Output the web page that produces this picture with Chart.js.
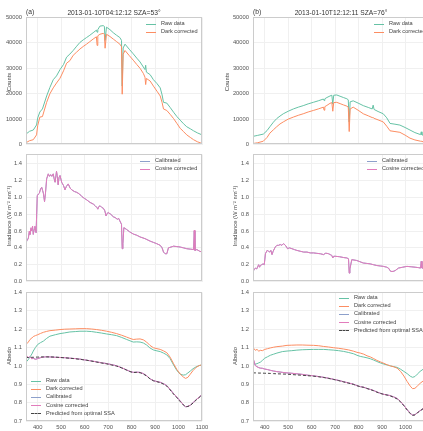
<!DOCTYPE html>
<html>
<head>
<meta charset="utf-8">
<script src="https://cdn.jsdelivr.net/npm/chart.js@4.4.0/dist/chart.umd.min.js"></script>
<style>
  html, body { margin: 0; padding: 0; background: #fff; overflow: hidden; }
  #fig { position: relative; width: 460px; height: 431px; font-family: "Liberation Sans", Arial, sans-serif; color: #333; }
  #fig canvas { position: absolute; }
  .txt { position: absolute; white-space: nowrap; line-height: 1; transform: translateY(-50%); font-size: 6.7px; color: #333; }
  .ttl { transform: translate(-50%, -50%); }
  .ylab { position: absolute; white-space: nowrap; line-height: 1; font-size: 5.8px; color: #444; transform: translate(-50%, -50%) rotate(-90deg); }
  .leg { position: absolute; white-space: nowrap; line-height: 1; font-size: 5.6px; color: #444; transform: translateY(-50%); }
  .sw { position: absolute; width: 10px; height: 0; border-top: 1px solid; }
</style>
</head>
<body>
<div id="fig">
  <canvas id="countsA" width="214" height="142" style="left:0;top:10px"></canvas>
  <canvas id="irrA" width="214" height="142" style="left:0;top:147px"></canvas>
  <canvas id="albA" width="214" height="146" style="left:0;top:285px"></canvas>
  <canvas id="countsB" width="214" height="142" style="left:227px;top:10px"></canvas>
  <canvas id="irrB" width="214" height="142" style="left:227px;top:147px"></canvas>
  <canvas id="albB" width="214" height="146" style="left:227px;top:285px"></canvas>

  <div class="txt" style="left:26px;top:12px">(a)</div>
  <div class="txt ttl" style="left:114px;top:12.5px">2013-01-10T04:12:12 SZA=53°</div>
  <div class="txt" style="left:253px;top:12px">(b)</div>
  <div class="txt ttl" style="left:341px;top:12.5px">2013-01-10T12:12:11 SZA=76°</div>

  <div class="ylab" style="left:10px;top:81.5px">Counts</div>
  <div class="ylab" style="left:9.5px;top:216px">Irradiance (W m⁻² nm⁻¹)</div>
  <div class="ylab" style="left:9.5px;top:356px">Albedo</div>
  <div class="ylab" style="left:228px;top:81.5px">Counts</div>
  <div class="ylab" style="left:236px;top:216px">Irradiance (W m⁻² nm⁻¹)</div>
  <div class="ylab" style="left:236px;top:356px">Albedo</div>
  <div id="legends"></div>
</div>
<script>
// couleurs (palette Set2)
const colRaw = "#66c2a5";
const colDark = "#fc8d62";
const colCal = "#8da0cb";
const colCos = "#e27cbc";
const colPred = "#444444";

// ticks
const wlTicks = [400, 500, 600, 700, 800, 900, 1000, 1100];
const countsTicks = [0, 10000, 20000, 30000, 40000, 50000];
const irrTicks = [0, 0.2, 0.4, 0.6, 0.8, 1.0, 1.2, 1.4];
const albTicks = [0.7, 0.8, 0.9, 1.0, 1.1, 1.2, 1.3, 1.4];

// (a) counts
const wlCountsA = [350, 365, 381, 395, 400, 409, 420, 438, 452, 466, 480, 495, 510, 523, 537, 551, 566, 580, 594, 608, 622, 636, 650, 653, 656, 665, 679, 684, 687, 693, 708, 722, 736, 750, 757, 760, 764, 772, 790, 807, 822, 836, 850, 857, 860, 863, 879, 893, 908, 922, 930, 936, 950, 965, 979, 993, 1007, 1021, 1035, 1050, 1064, 1080, 1100];
const rawCountsA = [4100, 5200, 5700, 7700, 10500, 12800, 14000, 19100, 22500, 25500, 27000, 29500, 31500, 34400, 35600, 37000, 38700, 40200, 41200, 42100, 43000, 44000, 45000, 44200, 45200, 46600, 46800, 46500, 41000, 46200, 45200, 44000, 43000, 42100, 41000, 23000, 38000, 39500, 37500, 35700, 34000, 32500, 30500, 29500, 31200, 28500, 27500, 25500, 24000, 22300, 19500, 16600, 16300, 14500, 12700, 11000, 9600, 8200, 7000, 6200, 5400, 4600, 3800];
const darkCountsA = [700, 1500, 1900, 3800, 7500, 10800, 11000, 16600, 20000, 22300, 24200, 26100, 29000, 32000, 33000, 35100, 36400, 37600, 38600, 39500, 40500, 41500, 42400, 39000, 42800, 43400, 43750, 43400, 37900, 43400, 42500, 41500, 40500, 39500, 38500, 19800, 35500, 37000, 35000, 33200, 31500, 30000, 28000, 26500, 23600, 26000, 25000, 23000, 21000, 19100, 16500, 14000, 13400, 11800, 10200, 8300, 6400, 5100, 3800, 2800, 1900, 1100, 400];

// (b) counts
const wlCountsB = [350, 370, 394, 410, 422, 437, 451, 465, 479, 500, 522, 543, 564, 585, 607, 628, 650, 653, 656, 665, 678, 686, 690, 694, 707, 721, 735, 750, 756, 760, 764, 777, 798, 820, 841, 858, 862, 866, 883, 905, 920, 934, 955, 976, 998, 1019, 1040, 1064, 1067, 1070, 1085, 1100];
const rawCountsB = [3200, 3600, 4100, 5500, 7000, 8800, 10200, 11200, 12100, 13100, 14000, 14700, 15300, 16000, 16600, 17200, 17900, 17300, 18000, 18500, 19100, 19400, 15900, 19400, 19500, 19000, 18500, 18000, 17600, 8900, 16800, 17200, 16300, 15300, 14600, 14000, 15500, 13800, 13000, 12100, 10500, 8300, 8000, 7650, 6700, 5700, 4700, 3900, 5000, 3800, 3400, 3000];
const darkCountsB = [400, 700, 1300, 2800, 4500, 5800, 7000, 8100, 8900, 10000, 10800, 11500, 12100, 12800, 13400, 14000, 14700, 13500, 14900, 15400, 16200, 16500, 13100, 16500, 16600, 16100, 15600, 15100, 14700, 5100, 14000, 14700, 13500, 12100, 11300, 10600, 10600, 10300, 9700, 8900, 7200, 5400, 5100, 4800, 3700, 2500, 1800, 1300, 1300, 1200, 900, 600];

// (a) irradiance
const wlIrrA = [350, 355, 360, 364, 367, 371, 374, 378, 381, 385, 388, 393, 398, 403, 407, 412, 417, 421, 424, 429, 433, 438, 445, 450, 455, 460, 466, 470, 474, 480, 483, 487, 491, 495, 502, 510, 516, 522, 530, 538, 545, 556, 566, 578, 588, 598, 609, 623, 637, 645, 652, 656, 660, 666, 673, 680, 686, 691, 696, 700, 711, 722, 730, 739, 745, 750, 757, 760, 763, 767, 778, 792, 807, 822, 836, 857, 879, 893, 907, 922, 930, 936, 943, 950, 957, 968, 979, 993, 1007, 1021, 1035, 1050, 1064, 1067, 1070, 1078, 1090, 1100];
const cosIrrA = [0.47, 0.49, 0.51, 0.60, 0.56, 0.64, 0.60, 0.66, 0.56, 0.62, 0.66, 0.58, 1.02, 1.04, 1.05, 1.10, 1.12, 1.08, 1.05, 0.95, 1.05, 1.22, 1.28, 1.25, 1.27, 1.25, 1.28, 1.22, 1.18, 1.31, 1.26, 1.15, 1.24, 1.26, 1.18, 1.14, 1.09, 1.13, 1.16, 1.11, 1.09, 1.07, 1.06, 1.04, 1.01, 0.99, 0.97, 0.94, 0.92, 0.90, 0.88, 0.86, 0.89, 0.90, 0.88, 0.87, 0.84, 0.78, 0.81, 0.82, 0.80, 0.77, 0.76, 0.74, 0.75, 0.72, 0.68, 0.39, 0.45, 0.64, 0.62, 0.59, 0.565, 0.55, 0.53, 0.51, 0.48, 0.465, 0.45, 0.43, 0.40, 0.35, 0.33, 0.33, 0.40, 0.41, 0.42, 0.415, 0.41, 0.40, 0.39, 0.385, 0.38, 0.61, 0.37, 0.38, 0.36, 0.35];
const calIrrA = [0.46, 0.49, 0.52, 0.59, 0.56, 0.63, 0.61, 0.65, 0.56, 0.62, 0.65, 0.58, 1.02, 1.04, 1.05, 1.10, 1.12, 1.08, 1.05, 0.95, 1.05, 1.22, 1.28, 1.25, 1.27, 1.25, 1.28, 1.22, 1.18, 1.31, 1.26, 1.15, 1.24, 1.26, 1.18, 1.14, 1.09, 1.13, 1.16, 1.11, 1.09, 1.07, 1.06, 1.04, 1.01, 0.99, 0.97, 0.94, 0.92, 0.90, 0.88, 0.86, 0.89, 0.90, 0.88, 0.87, 0.84, 0.78, 0.81, 0.82, 0.80, 0.77, 0.76, 0.74, 0.75, 0.72, 0.68, 0.39, 0.45, 0.64, 0.62, 0.59, 0.565, 0.55, 0.53, 0.51, 0.48, 0.465, 0.45, 0.43, 0.40, 0.35, 0.33, 0.33, 0.40, 0.41, 0.42, 0.415, 0.41, 0.40, 0.39, 0.385, 0.38, 0.60, 0.37, 0.38, 0.36, 0.35];

// (b) irradiance
const wlIrrB = [350, 355, 360, 366, 374, 378, 381, 387, 393, 398, 403, 410, 416, 421, 426, 431, 436, 445, 452, 459, 466, 473, 480, 488, 493, 497, 505, 516, 526, 537, 551, 566, 580, 594, 608, 622, 637, 651, 658, 665, 672, 679, 686, 690, 694, 700, 718, 736, 750, 757, 760, 763, 771, 792, 806, 820, 835, 849, 863, 878, 892, 906, 920, 927, 937, 947, 956, 970, 988, 1006, 1024, 1041, 1055, 1064, 1067, 1070, 1085, 1100];
const cosIrrB = [0.12, 0.14, 0.16, 0.15, 0.20, 0.17, 0.19, 0.20, 0.21, 0.20, 0.33, 0.37, 0.36, 0.35, 0.37, 0.32, 0.36, 0.41, 0.43, 0.43, 0.44, 0.43, 0.45, 0.43, 0.41, 0.39, 0.40, 0.39, 0.38, 0.37, 0.36, 0.35, 0.35, 0.34, 0.34, 0.335, 0.33, 0.32, 0.335, 0.335, 0.33, 0.32, 0.31, 0.28, 0.30, 0.30, 0.295, 0.285, 0.28, 0.27, 0.10, 0.15, 0.26, 0.25, 0.235, 0.22, 0.215, 0.21, 0.20, 0.19, 0.185, 0.18, 0.17, 0.16, 0.12, 0.12, 0.13, 0.16, 0.17, 0.18, 0.175, 0.17, 0.165, 0.16, 0.24, 0.16, 0.155, 0.15];
const calIrrB = [0.12, 0.14, 0.16, 0.15, 0.20, 0.17, 0.19, 0.20, 0.21, 0.20, 0.33, 0.37, 0.36, 0.35, 0.37, 0.32, 0.36, 0.41, 0.43, 0.43, 0.44, 0.43, 0.45, 0.43, 0.41, 0.39, 0.40, 0.39, 0.38, 0.37, 0.36, 0.35, 0.35, 0.34, 0.34, 0.335, 0.33, 0.32, 0.335, 0.335, 0.33, 0.32, 0.31, 0.28, 0.30, 0.30, 0.295, 0.285, 0.28, 0.27, 0.10, 0.15, 0.26, 0.25, 0.235, 0.22, 0.215, 0.21, 0.20, 0.19, 0.185, 0.18, 0.17, 0.16, 0.12, 0.12, 0.13, 0.16, 0.17, 0.18, 0.175, 0.17, 0.165, 0.16, 0.24, 0.16, 0.155, 0.15];

// albedo
const wlAlb = [350, 360, 367, 375, 381, 390, 400, 412, 424, 438, 452, 475, 495, 515, 537, 560, 580, 608, 630, 651, 672, 694, 715, 736, 758, 779, 793, 807, 822, 836, 850, 864, 878, 893, 908, 922, 936, 950, 964, 979, 993, 1007, 1020, 1030, 1040, 1050, 1062, 1075, 1088, 1100];
const rawAlbA = [1.02, 1.035, 1.049, 1.065, 1.081, 1.10, 1.117, 1.127, 1.135, 1.150, 1.162, 1.170, 1.176, 1.180, 1.185, 1.187, 1.189, 1.189, 1.187, 1.183, 1.179, 1.174, 1.170, 1.165, 1.155, 1.144, 1.137, 1.130, 1.131, 1.130, 1.125, 1.114, 1.098, 1.087, 1.082, 1.078, 1.070, 1.060, 1.040, 1.005, 0.975, 0.955, 0.950, 0.952, 0.962, 0.972, 0.985, 0.995, 1.002, 1.005];
const darkAlbA = [1.117, 1.13, 1.144, 1.152, 1.160, 1.165, 1.170, 1.177, 1.183, 1.188, 1.192, 1.195, 1.198, 1.200, 1.201, 1.202, 1.203, 1.203, 1.201, 1.198, 1.194, 1.189, 1.183, 1.176, 1.167, 1.157, 1.150, 1.144, 1.146, 1.147, 1.142, 1.130, 1.112, 1.099, 1.094, 1.090, 1.082, 1.072, 1.048, 1.012, 0.980, 0.956, 0.940, 0.932, 0.938, 0.955, 0.975, 0.992, 1.002, 1.006];
const calAlbA = [1.05, 1.045, 1.048, 1.040, 1.042, 1.037, 1.040, 1.045, 1.048, 1.050, 1.049, 1.047, 1.046, 1.045, 1.042, 1.040, 1.037, 1.031, 1.027, 1.022, 1.017, 1.013, 1.007, 1.001, 0.990, 0.978, 0.970, 0.965, 0.966, 0.965, 0.958, 0.947, 0.930, 0.920, 0.915, 0.911, 0.903, 0.893, 0.872, 0.849, 0.830, 0.809, 0.790, 0.777, 0.780, 0.786, 0.800, 0.816, 0.830, 0.845];
const cosAlbA = [1.06, 1.045, 1.05, 1.038, 1.042, 1.035, 1.040, 1.045, 1.048, 1.050, 1.049, 1.047, 1.046, 1.045, 1.042, 1.040, 1.037, 1.031, 1.027, 1.022, 1.017, 1.013, 1.007, 1.001, 0.990, 0.978, 0.970, 0.965, 0.966, 0.965, 0.958, 0.947, 0.930, 0.920, 0.915, 0.911, 0.903, 0.893, 0.872, 0.849, 0.830, 0.809, 0.790, 0.777, 0.780, 0.786, 0.800, 0.816, 0.830, 0.845];
const predAlbA = [1.045, 1.046, 1.046, 1.047, 1.047, 1.048, 1.048, 1.049, 1.049, 1.049, 1.049, 1.048, 1.046, 1.044, 1.042, 1.039, 1.036, 1.031, 1.026, 1.021, 1.016, 1.011, 1.005, 0.999, 0.989, 0.977, 0.969, 0.964, 0.965, 0.963, 0.956, 0.945, 0.930, 0.919, 0.914, 0.909, 0.901, 0.890, 0.870, 0.846, 0.827, 0.806, 0.788, 0.778, 0.779, 0.785, 0.798, 0.814, 0.828, 0.842];

const rawAlbB = [1.013, 1.010, 1.012, 1.017, 1.020, 1.030, 1.042, 1.050, 1.058, 1.064, 1.070, 1.078, 1.081, 1.083, 1.086, 1.088, 1.089, 1.090, 1.090, 1.090, 1.088, 1.086, 1.083, 1.079, 1.073, 1.066, 1.058, 1.052, 1.048, 1.044, 1.039, 1.032, 1.024, 1.016, 1.010, 1.005, 1.000, 0.996, 0.992, 0.982, 0.970, 0.958, 0.944, 0.938, 0.942, 0.955, 0.970, 0.982, 0.990, 0.995];
const darkAlbB = [1.10, 1.085, 1.09, 1.08, 1.085, 1.083, 1.090, 1.094, 1.098, 1.102, 1.105, 1.108, 1.112, 1.113, 1.114, 1.114, 1.113, 1.112, 1.110, 1.106, 1.103, 1.099, 1.096, 1.092, 1.087, 1.080, 1.074, 1.070, 1.064, 1.055, 1.049, 1.040, 1.030, 1.022, 1.014, 1.006, 1.000, 0.995, 0.988, 0.970, 0.945, 0.915, 0.890, 0.876, 0.878, 0.890, 0.905, 0.918, 0.926, 0.930];
const calAlbB = [1.04, 1.003, 0.996, 0.991, 0.988, 0.987, 0.983, 0.980, 0.976, 0.972, 0.969, 0.965, 0.962, 0.960, 0.957, 0.954, 0.950, 0.946, 0.942, 0.938, 0.933, 0.927, 0.921, 0.914, 0.907, 0.900, 0.893, 0.887, 0.884, 0.877, 0.872, 0.866, 0.858, 0.851, 0.845, 0.842, 0.838, 0.831, 0.823, 0.806, 0.785, 0.762, 0.742, 0.732, 0.734, 0.745, 0.756, 0.768, 0.776, 0.780];
const cosAlbB = [1.045, 1.001, 0.995, 0.990, 0.988, 0.987, 0.983, 0.980, 0.976, 0.972, 0.969, 0.965, 0.962, 0.960, 0.957, 0.954, 0.950, 0.946, 0.942, 0.938, 0.933, 0.927, 0.921, 0.914, 0.907, 0.900, 0.893, 0.887, 0.884, 0.877, 0.872, 0.866, 0.858, 0.851, 0.845, 0.842, 0.838, 0.831, 0.823, 0.806, 0.785, 0.762, 0.742, 0.732, 0.734, 0.745, 0.756, 0.768, 0.776, 0.780];
const predAlbB = [0.962, 0.962, 0.962, 0.961, 0.961, 0.961, 0.960, 0.960, 0.959, 0.958, 0.957, 0.956, 0.955, 0.953, 0.951, 0.949, 0.947, 0.944, 0.941, 0.937, 0.932, 0.926, 0.920, 0.913, 0.906, 0.899, 0.892, 0.887, 0.883, 0.877, 0.871, 0.865, 0.857, 0.850, 0.845, 0.841, 0.836, 0.829, 0.820, 0.804, 0.783, 0.760, 0.740, 0.731, 0.733, 0.744, 0.755, 0.767, 0.775, 0.779];

// helpers
const tickFont = { family: "'Liberation Sans', Arial, sans-serif", size: 5.8 };
const tickColor = "#555";
const gridColor = "#f0f0f0";

function xy(xs, ys) {
  return xs.map((x, i) => ({ x: x, y: ys[i] }));
}

function line(label, xs, ys, color, dashed) {
  return {
    label: label,
    data: xy(xs, ys),
    borderColor: color,
    borderWidth: 1,
    borderDash: dashed ? [3, 2] : [],
    pointRadius: 0,
    fill: false,
  };
}

// cadre gris autour de la zone de tracé
const framePlugin = {
  id: "frame",
  afterDraw(chart) {
    const a = chart.chartArea;
    const c = chart.ctx;
    c.save();
    c.strokeStyle = "#cccccc";
    c.lineWidth = 1;
    c.strokeRect(Math.round(a.left) + 0.5, Math.round(a.top) + 0.5, Math.round(a.right - a.left) - 1, Math.round(a.bottom - a.top) - 1);
    c.restore();
  },
};

function makeChart(id, datasets, yMin, yMax, yTicks, fmt, showX) {
  // dernier dataset dessiné au-dessus (comme matplotlib)
  datasets.forEach((d, i) => { d.order = datasets.length - i; });
  return new Chart(document.getElementById(id), {
    type: "line",
    data: { datasets: datasets },
    options: {
      responsive: false,
      animation: false,
      devicePixelRatio: 1,
      layout: { padding: { top: 6, right: 12, bottom: showX ? 0 : 5, left: 0 } },
      plugins: { legend: { display: false }, tooltip: { enabled: false } },
      scales: {
        x: {
          type: "linear",
          min: 350,
          max: 1100,
          afterBuildTicks: (s) => { s.ticks = wlTicks.map((v) => ({ value: v })); },
          afterFit: (s) => { s.height = showX ? 10 : 0; },
          grid: { color: gridColor, drawTicks: false },
          border: { display: false },
          ticks: { display: showX, padding: 3, color: tickColor, font: tickFont, maxRotation: 0, callback: (v) => String(v) },
        },
        y: {
          type: "linear",
          min: yMin,
          max: yMax,
          afterBuildTicks: (s) => { s.ticks = yTicks.map((v) => ({ value: v })); },
          afterFit: (s) => { s.width = 26; },
          grid: { color: gridColor, drawTicks: false },
          border: { display: false },
          ticks: { padding: 4, color: tickColor, font: tickFont, callback: fmt },
        },
      },
    },
    plugins: [framePlugin],
  });
}

const fmtInt = (v) => String(v);
const fmt1 = (v) => v.toFixed(1);

makeChart("countsA", [
  line("Raw data", wlCountsA, rawCountsA, colRaw),
  line("Dark corrected", wlCountsA, darkCountsA, colDark),
], 0, 50000, countsTicks, fmtInt, false);

makeChart("countsB", [
  line("Raw data", wlCountsB, rawCountsB, colRaw),
  line("Dark corrected", wlCountsB, darkCountsB, colDark),
], 0, 50000, countsTicks, fmtInt, false);

makeChart("irrA", [
  line("Calibrated", wlIrrA, calIrrA, colCal),
  line("Cosine corrected", wlIrrA, cosIrrA, colCos),
], 0, 1.51, irrTicks, fmt1, false);

makeChart("irrB", [
  line("Calibrated", wlIrrB, calIrrB, colCal),
  line("Cosine corrected", wlIrrB, cosIrrB, colCos),
], 0, 1.51, irrTicks, fmt1, false);

makeChart("albA", [
  line("Raw data", wlAlb, rawAlbA, colRaw),
  line("Dark corrected", wlAlb, darkAlbA, colDark),
  line("Calibrated", wlAlb, calAlbA, colCal),
  line("Cosine corrected", wlAlb, cosAlbA, colCos),
  line("Predicted from optimal SSA", wlAlb, predAlbA, colPred, true),
], 0.7, 1.4, albTicks, fmt1, true);

makeChart("albB", [
  line("Raw data", wlAlb, rawAlbB, colRaw),
  line("Dark corrected", wlAlb, darkAlbB, colDark),
  line("Calibrated", wlAlb, calAlbB, colCal),
  line("Cosine corrected", wlAlb, cosAlbB, colCos),
  line("Predicted from optimal SSA", wlAlb, predAlbB, colPred, true),
], 0.7, 1.4, albTicks, fmt1, true);

// légendes (HTML, dans la zone de tracé)
const legendBoxes = [
  { x: 146, y: 24, items: [["Raw data", colRaw], ["Dark corrected", colDark]] },
  { x: 374, y: 24, items: [["Raw data", colRaw], ["Dark corrected", colDark]] },
  { x: 140, y: 161, items: [["Calibrated", colCal], ["Cosine corrected", colCos]] },
  { x: 367, y: 161, items: [["Calibrated", colCal], ["Cosine corrected", colCos]] },
  { x: 31, y: 381, items: [["Raw data", colRaw], ["Dark corrected", colDark], ["Calibrated", colCal], ["Cosine corrected", colCos], ["Predicted from optimal SSA", colPred, true]] },
  { x: 339, y: 298, items: [["Raw data", colRaw], ["Dark corrected", colDark], ["Calibrated", colCal], ["Cosine corrected", colCos], ["Predicted from optimal SSA", colPred, true]] },
];

const legendContainer = document.getElementById("legends");
legendBoxes.forEach((box) => {
  box.items.forEach((item, i) => {
    const yy = box.y + i * 8.2;
    const sw = document.createElement("div");
    sw.className = "sw";
    sw.style.left = box.x + "px";
    sw.style.top = (yy - 0.5) + "px";
    sw.style.borderTopColor = item[1];
    if (item[2]) sw.style.borderTopStyle = "dashed";
    const t = document.createElement("div");
    t.className = "leg";
    t.style.left = (box.x + 15) + "px";
    t.style.top = yy + "px";
    t.textContent = item[0];
    legendContainer.appendChild(sw);
    legendContainer.appendChild(t);
  });
});
</script>
</body>
</html>
